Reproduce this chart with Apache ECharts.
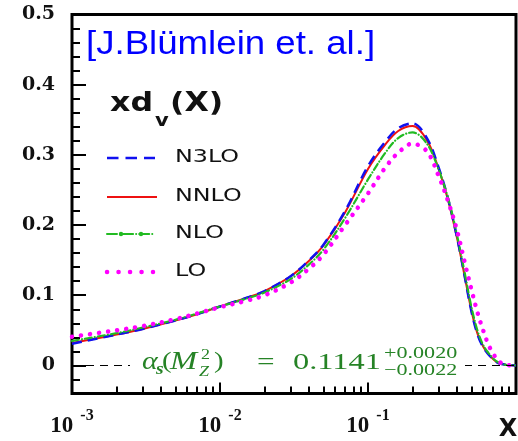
<!DOCTYPE html>
<html>
<head>
<meta charset="utf-8">
<script src="https://cdn.jsdelivr.net/npm/echarts@6/dist/echarts.min.js"></script>
<style>html,body{margin:0;padding:0;background:#fff;}#c{width:518px;height:441px;}</style>
</head>
<body>
<div id="c"></div>
<script>
// x values (log scale)
var xs   = [0.001,0.002,0.003,0.005,0.007,0.01,0.015,0.02,0.03,0.04,0.05,0.07,0.1,0.13,0.16,0.2,0.25,0.3,0.35,0.4,0.45,0.5,0.55,0.6,0.65,0.7,0.75,0.8,0.85,0.9,0.95,1.0];
var n3lo = [0.031,0.044,0.052,0.064,0.073,0.084,0.096,0.106,0.127,0.150,0.172,0.220,0.284,0.318,0.338,0.345,0.324,0.282,0.235,0.182,0.127,0.077,0.044,0.026,0.016,0.009,0.004,0.002,0.001,0.0005,0.0002,0];
var nnlo = [0.032,0.044,0.052,0.064,0.073,0.084,0.096,0.106,0.127,0.149,0.171,0.218,0.280,0.314,0.334,0.341,0.321,0.280,0.233,0.181,0.127,0.078,0.045,0.027,0.016,0.009,0.004,0.002,0.001,0.0005,0.0002,0];
var nlo  = [0.035,0.046,0.054,0.065,0.074,0.084,0.095,0.104,0.123,0.144,0.165,0.210,0.265,0.302,0.324,0.332,0.316,0.279,0.236,0.185,0.132,0.083,0.049,0.029,0.018,0.010,0.005,0.002,0.001,0.0005,0.0002,0];
var lo   = [0.041,0.050,0.056,0.066,0.074,0.083,0.092,0.100,0.118,0.138,0.158,0.200,0.245,0.281,0.303,0.316,0.305,0.270,0.232,0.192,0.147,0.108,0.075,0.050,0.030,0.017,0.008,0.003,0.001,0.0003,0,0];
var xMajor = [0.001,0.01,0.1,1];
var xLabels = [0.001,0.01,0.1];
var xMinor = [0.002,0.003,0.004,0.005,0.006,0.007,0.008,0.009,0.02,0.03,0.04,0.05,0.06,0.07,0.08,0.09,0.2,0.3,0.4,0.5,0.6,0.7,0.8,0.9];
var yMajor = [0,0.1,0.2,0.3,0.4,0.5];
var yMinor = [-0.02,0.02,0.04,0.06,0.08,0.12,0.14,0.16,0.18,0.22,0.24,0.26,0.28,0.32,0.34,0.36,0.38,0.42,0.44,0.46,0.48];
var legendNames = ['N3LO','NNLO','NLO','LO'];
var titleText = '[J.Blümlein et. al.]';

function pairs(v){ return xs.map(function(x,i){ return [x, v[i]]; }); }

var chart = echarts.init(document.getElementById('c'), null, {renderer:'canvas'});
var serif = 'Liberation Serif';
var green = '#268326';

function gtext(x, y, text, size, opts){
  opts = opts || {};
  return {type:'text', x:x, y:y, z:100, scaleX: opts.sx || 1,
    style:{text:text, fontSize:size, fontFamily: opts.ff || serif, fontWeight: opts.fw || 'normal',
      fontStyle: opts.fs || 'normal', fill: opts.fill || green, align: opts.align || 'left', verticalAlign:'middle'}};
}

var graphics = [
  gtext(86, 45, titleText, 33, {ff:'Liberation Sans', fill:'#0000ff', sx:1.11}),
  gtext(110, 104, 'xd', 27, {ff:'DejaVu Sans', fw:'bold', fill:'#111', sx:1.17}),
  gtext(155, 121, 'v', 18, {ff:'DejaVu Sans', fw:'bold', fill:'#111', sx:1.17}),
  gtext(170, 104, '(X)', 27, {ff:'DejaVu Sans', fw:'bold', fill:'#111', sx:1.17}),
  {type:'line', z:100, shape:{x1:107,y1:158,x2:155,y2:158}, style:{stroke:'#1010f0', lineWidth:2.5, lineDash:[11.5,7]}},
  {type:'line', z:100, shape:{x1:107,y1:197,x2:157,y2:197}, style:{stroke:'#ee1111', lineWidth:2}},
  {type:'line', z:100, shape:{x1:107,y1:234,x2:155,y2:234}, style:{stroke:'#22bb22', lineWidth:2, lineDash:[10,3,0.1,3], lineCap:'round'}},
  {type:'circle', z:101, shape:{cx:121,cy:234,r:2.2}, style:{fill:'#22bb22'}},
  {type:'circle', z:101, shape:{cx:141,cy:234,r:2.2}, style:{fill:'#22bb22'}},
  {type:'line', z:100, shape:{x1:107,y1:272,x2:153,y2:272}, style:{stroke:'#ff00ff', lineWidth:4.5, lineDash:[0.1,11.4], lineCap:'round'}},
  gtext(508, 430, 'X', 24, {ff:'DejaVu Sans', fw:'bold', fill:'#111', align:'center'}),
  {type:'rect', z:99, shape:{x:130,y:350,width:335,height:30}, style:{fill:'#fff'}}
];
legendNames.forEach(function(nm, i){
  graphics.push(gtext(175, [158,197,234,272][i], nm, 17, {ff:'DejaVu Sans', fill:'#111', sx:1.4}));
});
// alpha_s(M_Z^2) = 0.1141 +0.0020 -0.0022
graphics.push(gtext(142, 362, 'α', 26, {fs:'italic', sx:1.15}));
graphics.push(gtext(156, 370, 's', 17, {fs:'italic', fw:'bold', sx:1.15}));
graphics.push(gtext(162, 362, '(', 24, {sx:1.2}));
graphics.push(gtext(170, 362, 'M', 25, {fs:'italic', sx:1.3}));
graphics.push(gtext(201, 355, '2', 15, {sx:1.2}));
graphics.push(gtext(199, 372, 'Z', 15, {fs:'italic', sx:1.2}));
graphics.push(gtext(214, 362, ')', 24, {sx:1.2}));
graphics.push(gtext(257, 363, '=', 24, {sx:1.3}));
graphics.push(gtext(293, 363, '0.1141', 24, {sx:1.35}));
graphics.push(gtext(384, 354, '+0.0020', 17, {sx:1.3}));
graphics.push(gtext(384, 371, '\u22120.0022', 17, {sx:1.3}));

function series(name, data, color, lineStyle, extra){
  var s = {name:name, type:'line', data:pairs(data), showSymbol:false, smooth:0.35,
    xAxisIndex:0, yAxisIndex:0, lineStyle:Object.assign({color:color}, lineStyle), itemStyle:{color:color}};
  return Object.assign(s, extra || {});
}

var option = {
  animation:false,
  backgroundColor:'#fff',
  grid:{left:72, right:2, top:14.5, bottom:47.5, show:true, borderColor:'#000', borderWidth:3, backgroundColor:'transparent'},
  xAxis:[
    {type:'log', logBase:10, min:0.001, max:1, position:'bottom',
     axisLine:{show:false, onZero:false},
     axisTick:{show:true, inside:true, length:11, lineStyle:{color:'#000', width:2}, customValues:xMajor},
     splitLine:{show:false},
     axisLabel:{show:true, margin:14, customValues:xLabels,
       formatter:function(v){ var e = Math.round(Math.log10(v)); return '{b|10}{s|' + e + '}'; },
       rich:{
         b:{fontFamily:serif, fontWeight:'bold', fontSize:23, color:'#111', lineHeight:30, verticalAlign:'bottom'},
         s:{fontFamily:serif, fontWeight:'bold', fontSize:16, color:'#111', lineHeight:16, verticalAlign:'top', padding:[0,0,0,7]}
       }}},
    {type:'log', logBase:10, min:0.001, max:1, position:'bottom',
     axisLine:{show:false, onZero:false}, axisLabel:{show:false}, splitLine:{show:false},
     axisTick:{show:true, inside:true, length:7, lineStyle:{color:'#000', width:2}, customValues:xMinor}}
  ],
  yAxis:[
    {type:'value', min:-0.04, max:0.5, position:'left',
     axisLine:{show:false, onZero:false}, splitLine:{show:false},
     axisTick:{show:true, inside:true, length:14, lineStyle:{color:'#000', width:2}, customValues:yMajor},
     axisLabel:{show:true, margin:17, customValues:yMajor,
       formatter:function(v){ return v === 0 ? '0' : v.toFixed(1); },
       fontFamily:'DejaVu Serif', fontWeight:'bold', fontSize:19, color:'#111'}},
    {type:'value', min:-0.04, max:0.5, position:'left',
     axisLine:{show:false, onZero:false}, splitLine:{show:false}, axisLabel:{show:false},
     axisTick:{show:true, inside:true, length:8, lineStyle:{color:'#000', width:2}, customValues:yMinor}}
  ],
  series:[
    series('NNLO', nnlo, '#ee1111', {width:2, type:'solid'}, {
      markLine:{silent:true, symbol:'none', label:{show:false}, animation:false,
        lineStyle:{color:'#000', type:[8,6], width:1.2}, data:[{yAxis:0}]}}),
    series('N3LO', n3lo, '#1010f0', {width:2.5, type:[10,6]}),
    series('NLO', nlo, '#22bb22', {width:2.2, type:[7,3,0.1,3], cap:'round'}),
    series('LO', lo, '#ff00ff', {width:4.5, type:[0.1,9], cap:'round'})
  ],
  graphic:{elements:graphics}
};
chart.setOption(option);
</script>
</body>
</html>
